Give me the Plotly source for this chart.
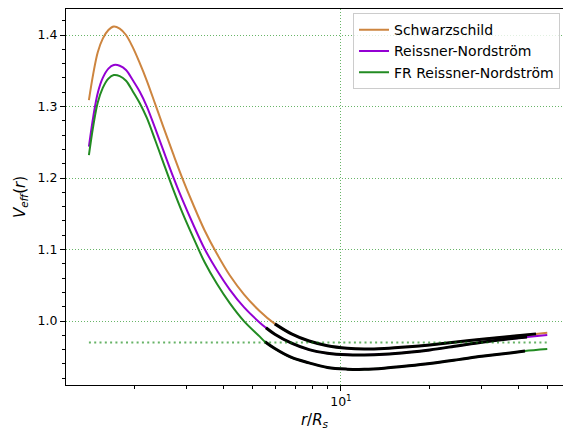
import plotly.graph_objects as go

# ---- data ----
r_schw = [1.40, 1.45, 1.50, 1.56, 1.63, 1.70, 1.78, 1.87, 1.97, 2.08, 2.2, 2.35, 2.5, 2.7, 2.9,
          3.15, 3.45, 3.8, 4.2, 4.7, 5.3, 5.97, 6.8, 7.8, 9.0, 10.5, 12.0, 14.0, 17.0, 20.0,
          25.0, 30.0, 38.0, 45.8, 50.0]
v_schw = [1.309, 1.347, 1.376, 1.395, 1.407, 1.412, 1.409, 1.400, 1.383, 1.361, 1.336, 1.303, 1.272,
          1.234, 1.200, 1.164, 1.127, 1.094, 1.064, 1.037, 1.014, 0.996, 0.982, 0.972, 0.9655,
          0.962, 0.961, 0.9617, 0.964, 0.9666, 0.971, 0.9745, 0.9787, 0.982, 0.9835]

r_rn = [1.40, 1.45, 1.50, 1.56, 1.63, 1.70, 1.78, 1.87, 1.97, 2.08, 2.2, 2.35, 2.5, 2.7, 2.9,
        3.15, 3.45, 3.8, 4.2, 4.7, 5.3, 5.57, 5.97, 6.8, 7.8, 9.0, 10.5, 12.0, 14.0, 17.0, 20.0,
        25.0, 30.0, 38.0, 42.7, 50.0]
v_rn = [1.244, 1.287, 1.319, 1.340, 1.353, 1.358, 1.357, 1.351, 1.337, 1.321, 1.300, 1.269, 1.239,
        1.202, 1.170, 1.136, 1.101, 1.071, 1.044, 1.019, 0.998, 0.9905, 0.9815, 0.969, 0.960,
        0.955, 0.9527, 0.9524, 0.9534, 0.9563, 0.9596, 0.9655, 0.9703, 0.9754, 0.9775, 0.9805]

r_fr = [1.40, 1.45, 1.50, 1.56, 1.63, 1.70, 1.78, 1.87, 1.97, 2.08, 2.2, 2.35, 2.5, 2.7, 2.9,
        3.15, 3.45, 3.8, 4.2, 4.7, 5.3, 5.527, 5.97, 6.8, 7.8, 9.0, 10.5, 12.0, 14.0, 17.0, 20.0,
        25.0, 30.0, 38.0, 42.03, 50.0]
v_fr = [1.232, 1.274, 1.3055, 1.326, 1.339, 1.344, 1.3425, 1.336, 1.3215, 1.305, 1.284, 1.2525,
        1.222, 1.1845, 1.152, 1.118, 1.0825, 1.052, 1.025, 0.9995, 0.9785, 0.971, 0.9615, 0.949,
        0.9415, 0.935, 0.9327, 0.9324, 0.9339, 0.9373, 0.9406, 0.946, 0.9506, 0.9557, 0.958, 0.9608]

# ranges of r over which each curve is over-drawn in black
black_schw = (5.97, 45.8)
black_rn = (5.57, 42.7)
black_fr = (5.527, 42.03)

# horizontal reference level
ref_level = 0.97
ref_r = [1.40, 50.0]

y_ticks = [1.0, 1.1, 1.2, 1.3, 1.4]
y_ticklabels = ["1.0", "1.1", "1.2", "1.3", "1.4"]
x_ticks = [10]
x_ticklabels = ["10<sup>1</sup>"]
x_minor = [2, 3, 4, 5, 6, 7, 8, 9, 20, 30, 40, 50]

names = ["Schwarzschild", "Reissner-Nordström", "FR Reissner-Nordström"]
colors = ["#CD853F", "#9400D3", "#228B22"]

curves = [(r_schw, v_schw, black_schw), (r_rn, v_rn, black_rn), (r_fr, v_fr, black_fr)]

fig = go.Figure()

for (r, v, _), name, c in zip(curves, names, colors):
    fig.add_trace(go.Scatter(x=r, y=v, mode="lines", name=name,
                             line=dict(color=c, width=2, shape="spline", smoothing=1.0)))

for r, v, (lo, hi) in curves:
    rb = [a for a in r if lo - 1e-9 <= a <= hi + 1e-9]
    vb = [b for a, b in zip(r, v) if lo - 1e-9 <= a <= hi + 1e-9]
    fig.add_trace(go.Scatter(x=rb, y=vb, mode="lines", showlegend=False,
                             line=dict(color="black", width=3, shape="spline", smoothing=1.0)))

fig.add_trace(go.Scatter(x=ref_r, y=[ref_level] * len(ref_r), mode="lines", showlegend=False,
                         line=dict(color="rgba(0,128,0,0.6)", width=2, dash="2px,3.3px")))

grid_col = "rgba(40,150,40,0.7)"
fig.update_layout(
    width=563, height=432,
    margin=dict(l=66, r=0, t=9, b=47),
    plot_bgcolor="white", paper_bgcolor="white",
    font=dict(family="DejaVu Sans", size=12.5, color="black"),
    showlegend=True,
    legend=dict(x=0.5775, y=0.989, xanchor="left", yanchor="top",
                bgcolor="rgba(255,255,255,0.8)", bordercolor="#cccccc", borderwidth=1,
                font=dict(size=14), tracegroupgap=0),
    xaxis=dict(type="log", range=[0.0685, 1.7523], tickmode="array", tickvals=x_ticks,
               ticktext=x_ticklabels, ticks="outside", ticklen=5, tickcolor="black",
               showline=True, linecolor="black", linewidth=1, mirror=True,
               showgrid=True, gridcolor=grid_col, griddash="1px,2px", gridwidth=1, zeroline=False,
               minor=dict(tickmode="array", tickvals=x_minor, ticks="outside", ticklen=3,
                          tickcolor="black", showgrid=False),
               title=dict(text="<i>r</i>/<i>R<sub>s</sub></i>", standoff=6)),
    yaxis=dict(range=[0.9105, 1.4364], tickmode="array", tickvals=y_ticks, ticktext=y_ticklabels,
               ticks="outside", ticklen=5, tickcolor="black",
               showline=True, linecolor="black", linewidth=1, mirror=False,
               showgrid=True, gridcolor=grid_col, griddash="1px,2px", gridwidth=1, zeroline=False,
               minor=dict(tick0=0, dtick=0.02, ticks="outside", ticklen=3, tickcolor="black",
                          showgrid=False),
               title=dict(text="<i>V<sub>eff</sub></i>(<i>r</i>)", standoff=8)),
)

fig.write_html("out.html")
